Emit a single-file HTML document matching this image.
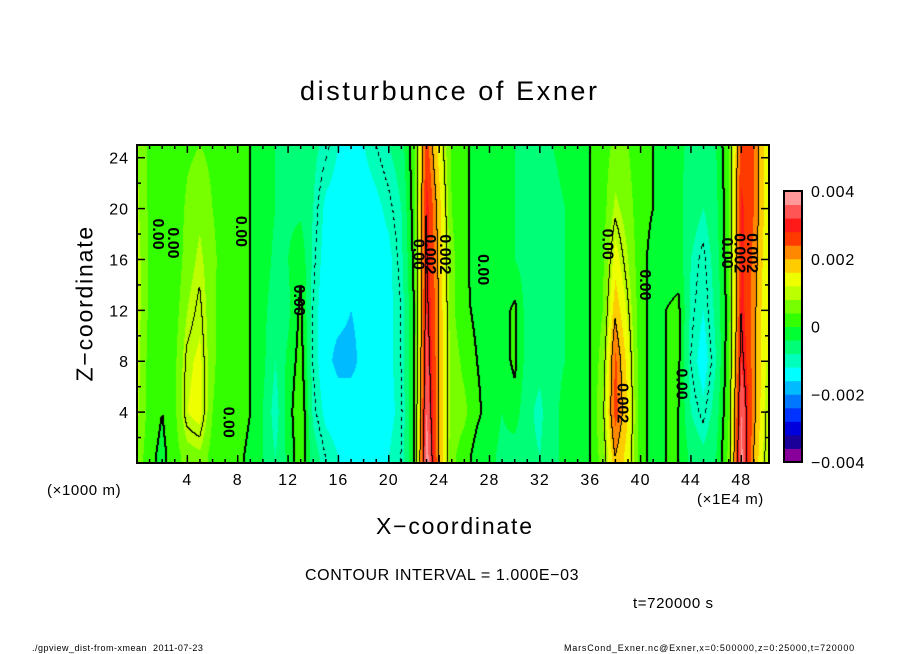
<!DOCTYPE html>
<html><head><meta charset="utf-8">
<style>
body{margin:0;background:#fff;width:904px;height:654px;position:relative;overflow:hidden;font-family:"Liberation Sans","DejaVu Sans",sans-serif;}
.t{position:absolute;white-space:nowrap;color:#000;}
</style></head><body>
<div class="t" style="left:300px;top:76px;font-size:27px;letter-spacing:2.6px;">disturbunce of Exner</div>
<canvas id="field" width="632" height="318" style="position:absolute;left:137px;top:145px;"></canvas>
<svg id="ax" width="904" height="654" style="position:absolute;left:0;top:0;"></svg>
<div class="t" style="left:47px;top:482px;font-size:15px;letter-spacing:0.6px;">(×1000 m)</div>
<div class="t" style="left:697px;top:491px;font-size:15px;letter-spacing:0.6px;">(×1E4 m)</div>
<div class="t" style="left:376px;top:513px;font-size:23px;letter-spacing:1.8px;">X−coordinate</div>
<div class="t" style="left:7px;top:290px;font-size:23px;letter-spacing:1.8px;transform:rotate(-90deg);transform-origin:center;width:156px;text-align:center;">Z−coordinate</div>
<div class="t" style="left:305px;top:567px;font-size:16px;letter-spacing:0.6px;">CONTOUR INTERVAL = 1.000E−03</div>
<div class="t" style="left:633px;top:595px;font-size:15px;letter-spacing:0.6px;">t=720000 s</div>
<div class="t" style="left:32px;top:643px;font-size:9px;letter-spacing:0.5px;">./gpview_dist-from-xmean &nbsp;2011-07-23</div>
<div class="t" style="left:564px;top:643px;font-size:9px;letter-spacing:0.8px;">MarsCond_Exner.nc@Exner,x=0:500000,z=0:25000,t=720000</div>
<script>
const levels=[-4,-3.6,-3.2,-2.8,-2.4,-2,-1.6,-1.2,-0.8,-0.4,0,0.4,0.8,1.2,1.6,2,2.4,2.8,3.2,3.6,4];
const bandColors=["#880099","#1a0099","#0000dd","#0033ff","#0077ff","#00bbff","#00ffff","#00ffbb","#00ff77","#00ff33","#33ff00","#77ff00","#bbff00","#eeff00","#ffcc00","#ff8800","#ff3a00","#ff1a1a","#ff5555","#ff9999"];
const zRows=[0.5,4,8,12,16,20,25];
const xCols=[0,1,2,3,4,5,6,7,8,9,10,11,12,13,14,15,16,17,18,19,20,21,22,23,24,25,26,27,28,29,30,31,32,33,34,35,36,37,38,39,40,41,42,43,44,45,46,47,48,49,50];
const row0=[0.7,0.1,-0.1,0.2,0.6,0.7,0.2,0,0.1,-0.1,-0.4,-0.8,-0.3,0.3,-0.6,-1.0,-1.2,-1.3,-1.3,-1.3,-1.2,-1.0,0,3.9,2.0,0.5,0.2,-0.2,-0.3,-0.5,-0.6,-0.7,-0.8,-0.5,-0.3,-0.1,0,0.6,2.0,1.4,0.1,-0.1,0,0,-0.5,-0.7,-0.4,0.5,3.8,2.0,0.9];
const row4=[0.9,0.2,0,0.3,1.2,1.4,0.4,0.1,0.2,0,-0.4,-1.0,-0.2,0.4,-0.9,-1.3,-1.4,-1.4,-1.4,-1.4,-1.3,-1.1,0,3.6,2.0,0.6,0.5,0.1,-0.2,-0.4,-0.2,-0.7,-0.9,-0.5,-0.3,-0.1,0,0.8,2.6,1.6,0.1,-0.1,0,0,-0.8,-1.1,-0.6,0.4,3.6,2.2,1.0];
const row8=[1.0,0.2,0,0.3,1.1,1.3,0.5,0.1,0.2,0,-0.3,-0.8,-0.3,0.2,-1.0,-1.5,-1.7,-1.7,-1.5,-1.4,-1.3,-1.0,0,3.4,2.0,0.6,0.3,0,-0.2,-0.2,0.1,-0.6,-0.7,-0.5,-0.4,-0.2,0,0.6,2.5,1.4,0.1,-0.1,0,0.1,-1.0,-1.4,-0.8,0.3,3.2,2.2,1.2];
const row12=[1.0,0.3,0,0.2,0.8,1.1,0.5,0.1,0.2,0,-0.3,-0.6,-0.5,0.1,-1.0,-1.5,-1.5,-1.6,-1.5,-1.4,-1.3,-1.0,0,3.2,2.0,0.5,0.1,-0.1,-0.3,-0.2,0.1,-0.6,-0.6,-0.5,-0.4,-0.2,0,0.4,1.9,1.1,0.1,-0.1,0,0.1,-0.9,-1.2,-0.7,0.2,3.0,2.2,1.2];
const row16=[1.0,0.3,0,0.1,0.6,0.9,0.5,0.2,0.1,0,-0.2,-0.5,-0.4,-0.1,-0.9,-1.4,-1.5,-1.5,-1.5,-1.4,-1.3,-0.9,0.1,3.1,1.9,0.5,0.1,-0.2,-0.3,-0.4,-0.4,-0.6,-0.6,-0.5,-0.4,-0.2,0,0.3,1.4,0.8,0.1,-0.1,-0.2,-0.2,-0.8,-1.1,-0.6,0.3,2.9,2.3,1.3];
const row20=[0.9,0.3,0,0.1,0.5,0.7,0.4,0.2,0.1,0,-0.2,-0.4,-0.5,-0.5,-0.8,-1.3,-1.4,-1.4,-1.4,-1.3,-1.1,-0.8,0.2,3.0,1.8,0.4,0.1,-0.2,-0.3,-0.4,-0.4,-0.6,-0.6,-0.5,-0.4,-0.2,0,0.2,0.9,0.6,0.1,0,-0.2,-0.3,-0.6,-0.8,-0.5,0.3,2.9,2.4,1.4];
const row25=[0.8,0.3,0.1,0.1,0.3,0.4,0.3,0.2,0.1,0,-0.2,-0.4,-0.5,-0.5,-0.7,-0.9,-1.2,-1.3,-1.2,-1.0,-0.8,-0.6,0.3,2.6,1.4,0.3,0.1,-0.2,-0.3,-0.4,-0.4,-0.5,-0.5,-0.4,-0.3,-0.2,0,0.2,0.5,0.4,0.1,0,-0.2,-0.3,-0.5,-0.6,-0.4,0.4,2.6,2.4,1.4];
const grid=[row0,row4,row8,row12,row16,row20,row25];
const xTicks=[4,8,12,16,20,24,28,32,36,40,44,48];
const yTicks=[4,8,12,16,20,24];
const cbTicks=[4,2,0,-2,-4];
const cbTickLabels=["0.004","0.002","0","−0.002","−0.004"];

const PL=137,PT=145,PW=632,PH=318,XMAX=50.2,ZMAX=25;
const sx=u=>PL+u/XMAX*PW, sz=z=>PT+PH-z/ZMAX*PH;
function val(u,z){
  let i=Math.min(Math.max(Math.floor(u),0),xCols.length-2), fx=Math.min(Math.max(u-xCols[i],0),1);
  let j=0; while(j<zRows.length-2 && z>zRows[j+1]) j++;
  let fz=Math.min(Math.max((z-zRows[j])/(zRows[j+1]-zRows[j]),0),1);
  const a=grid[j][i]*(1-fx)+grid[j][i+1]*fx, b=grid[j+1][i]*(1-fx)+grid[j+1][i+1]*fx;
  return a*(1-fz)+b*fz;
}
function band(v){let k=0;while(k<levels.length-2&&v>=levels[k+1])k++;return k;}
const cv=document.getElementById('field'),ctx=cv.getContext('2d');
const V=[];
for(let y=0;y<PH;y++){V.push([]);for(let x=0;x<PW;x++){V[y].push(val((x+0.5)/PW*XMAX,(PH-y-0.5)/PH*ZMAX));}}
for(let y=0;y<PH;y++)for(let x=0;x<PW;x++){ctx.fillStyle=bandColors[band(V[y][x])];ctx.fillRect(x,y,1,1);}
ctx.fillStyle="#000";
for(let y=0;y<PH-1;y++)for(let x=0;x<PW-1;x++){
  const c=Math.floor(V[y][x]),r=Math.floor(V[y][x+1]),d=Math.floor(V[y+1][x]);
  if(c!==r||c!==d){const lv=Math.max(c,r,d);
    if(lv<0){ if(((x+y)>>2)%2===0) ctx.fillRect(x,y,1,1);}
    else if(lv===0){ctx.fillRect(x,y,2,1);}
    else ctx.fillRect(x,y,1,1);}
}
const NS="http://www.w3.org/2000/svg",svg=document.getElementById('ax');
function mk(tag,attrs){const e=document.createElementNS(NS,tag);for(const k in attrs)e.setAttribute(k,attrs[k]);svg.appendChild(e);return e;}
const fr=mk('rect',{x:PL,y:PT,width:PW,height:PH,fill:'none',stroke:'#000','stroke-width':2});


for(let u=1;u<50;u++){const big=u%4===0,L=big?8:4;
  mk('line',{x1:sx(u),x2:sx(u),y1:PT+PH,y2:PT+PH-L,stroke:'#000','stroke-width':1.5});
  mk('line',{x1:sx(u),x2:sx(u),y1:PT,y2:PT+L,stroke:'#000','stroke-width':1.5});}
for(let z=2;z<25;z+=2){const big=z%4===0,L=big?8:4;
  mk('line',{x1:PL,x2:PL+L,y1:sz(z),y2:sz(z),stroke:'#000','stroke-width':1.5});
  mk('line',{x1:PL+PW,x2:PL+PW-L,y1:sz(z),y2:sz(z),stroke:'#000','stroke-width':1.5});}
xTicks.forEach(u=>{const t=mk('text',{x:sx(u),y:485,'font-size':16,'letter-spacing':1,'text-anchor':'middle','font-family':'Liberation Sans, sans-serif'});t.textContent=u;
  
  });
yTicks.forEach(z=>{const t=mk('text',{x:129,y:sz(z)+6,'font-size':16,'letter-spacing':1,'text-anchor':'end','font-family':'Liberation Sans, sans-serif'});t.textContent=z;
  
  });
const CX=784,CW=18,CT=191,CB=462,bh=(CB-CT)/bandColors.length;
bandColors.forEach((c,i)=>{const r=mk('rect',{x:CX,y:CB-(i+1)*bh,width:CW,height:bh+0.5,fill:c});
  
  });
mk('rect',{x:CX,y:CT,width:CW,height:CB-CT,fill:'none',stroke:'#000','stroke-width':2});
cbTicks.forEach((v,i)=>{const y=CB-(v+4)/8*(CB-CT);const t=mk('text',{x:811,y:y+6,'font-size':16,'letter-spacing':0.8,'font-family':'Liberation Sans, sans-serif'});t.textContent=cbTickLabels[i];
  
  });
const cl=[[1.6,18,"0.00"],[2.8,17.3,"0.00"],[8.2,18.2,"0.00"],[12.8,12.8,"0.00"],[7.2,3.2,"0.00"],[22.3,16.4,"0.00"],[23.2,16.4,"0.002"],[24.4,16.4,"0.002"],[27.4,15.2,"0.00"],[37.3,17.2,"0.00"],[40.3,14,"0.00"],[38.5,4.7,"0.002"],[43.2,6.2,"0.00"],[46.8,16.5,"0.00"],[47.8,16.5,"0.002"],[48.8,16.5,"0.002"]];
cl.forEach(c=>{const x=sx(c[0]),y=sz(c[1]);const t=mk('text',{x:x,y:y,'font-size':16,'font-weight':'bold','text-anchor':'middle','font-family':'Liberation Sans, sans-serif',transform:`rotate(90 ${x} ${y})`,'dominant-baseline':'middle'});t.textContent=c[2];
  
  });
</script>
</body></html>
